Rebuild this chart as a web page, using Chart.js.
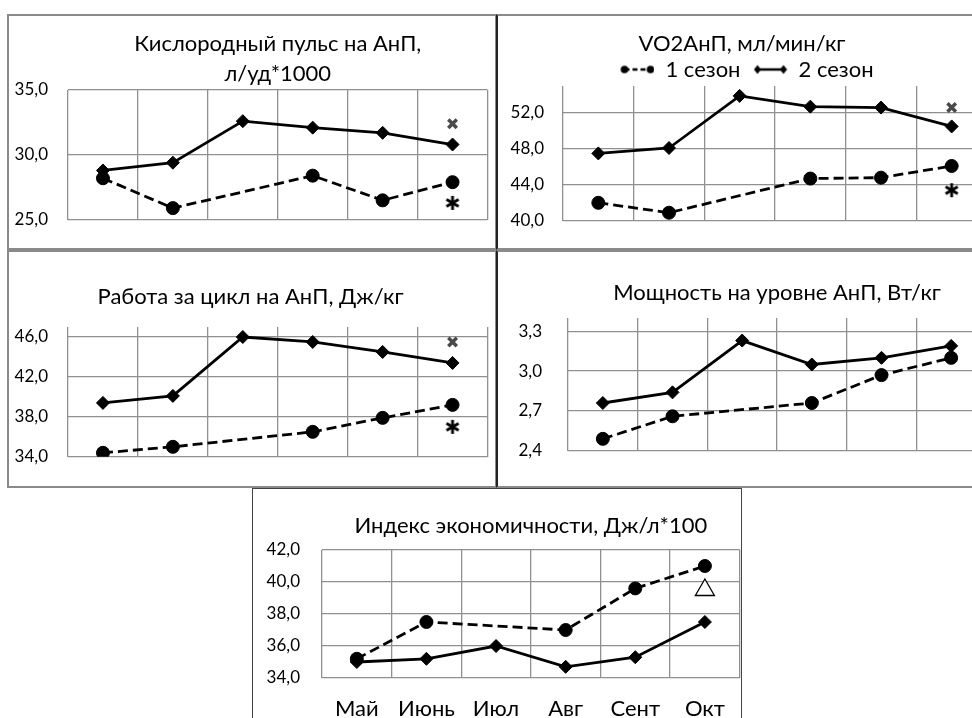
<!DOCTYPE html>
<html lang="ru">
<head>
<meta charset="utf-8">
<script src="https://cdn.jsdelivr.net/npm/chart.js@4.4.1/dist/chart.umd.min.js"></script>
<style>
  html, body { margin: 0; padding: 0; background: #fff; width: 972px; height: 718px; overflow: hidden; }
  .frame { position: absolute; box-sizing: border-box; }
  .holder { position: absolute; }
  #boxE { overflow: hidden; }
  #boxE canvas { position: absolute; left: -1px; top: -1px; }
</style>
</head>
<body>
<div class="frame" style="left:7px;top:14px;width:490px;height:236px;border:2px solid #8a8a8a;"></div>
<div class="frame" style="left:7px;top:250px;width:490px;height:238px;border:2px solid #8a8a8a;"></div>
<div class="frame" style="left:496px;top:14px;width:520px;height:236px;border:2px solid #8a8a8a;border-left-color:#222;"></div>
<div class="frame" style="left:496px;top:250px;width:520px;height:238px;border:2px solid #8a8a8a;border-left-color:#222;"></div>

<canvas class="holder" id="chartA" width="489" height="235" style="left:8px;top:15px;"></canvas>
<canvas class="holder" id="chartB" width="500" height="235" style="left:497px;top:15px;"></canvas>
<canvas class="holder" id="chartC" width="489" height="236" style="left:8px;top:251px;"></canvas>
<canvas class="holder" id="chartD" width="500" height="236" style="left:497px;top:251px;"></canvas>
<div class="frame" id="boxE" style="left:252px;top:488px;width:490px;height:240px;border:1px solid #444;">
  <canvas id="chartE" width="500" height="230"></canvas>
</div>

<script>
// months + series names
const months = ['Май', 'Июнь', 'Июл', 'Авг', 'Сент', 'Окт'];
const seriesNames = ['1 сезон', '2 сезон'];

// Кислородный пульс на АнП
const pulse1 = [28.2, 25.9, null, 28.4, 26.5, 27.9];
const pulse2 = [28.8, 29.4, 32.6, 32.1, 31.7, 30.8];
const pulseCross = [null, null, null, null, null, 32.4];
const pulseStar = [null, null, null, null, null, 26.3];
const pulseTicks = [25, 30, 35];

// VO2АнП
const vo2First = [42.0, 40.9, null, 44.7, 44.8, 46.1];
const vo2Second = [47.5, 48.1, 53.9, 52.7, 52.6, 50.5];
const vo2Cross = [null, null, null, null, null, 52.6];
const vo2Star = [null, null, null, null, null, 43.4];
const vo2Ticks = [40, 44, 48, 52];

// Работа за цикл
const work1 = [34.4, 35.0, null, 36.5, 37.9, 39.2];
const work2 = [39.4, 40.1, 46.0, 45.5, 44.5, 43.4];
const workCross = [null, null, null, null, null, 45.5];
const workStar = [null, null, null, null, null, 37.0];
const workTicks = [34, 38, 42, 46];

// Мощность на уровне АнП
const power1 = [2.49, 2.66, null, 2.76, 2.97, 3.10];
const power2 = [2.76, 2.84, 3.23, 3.05, 3.10, 3.19];
const powerTicks = [2.4, 2.7, 3.0, 3.3];

// Индекс экономичности
const econ1 = [35.2, 37.5, null, 37.0, 39.6, 41.0];
const econ2 = [35.0, 35.2, 36.0, 34.7, 35.3, 37.5];
const econTriangle = [null, null, null, null, null, 39.5];
const econTicks = [34, 36, 38, 40, 42];

Chart.defaults.font.family = 'Lato, "Open Sans", sans-serif';
Chart.defaults.color = '#000';

const gridColor = '#909090';
const titleSize = 22;

function fmt(v) {
    return Number(v).toFixed(1).replace('.', ',');
}

// asterisk marker
function makeStar() {
    const c = document.createElement('canvas');
    c.width = 16; c.height = 16;
    const ctx = c.getContext('2d');
    ctx.strokeStyle = '#000';
    ctx.lineWidth = 2.8;
    [90, 30, 150].forEach(a => {
        const t = a * Math.PI / 180;
        ctx.beginPath();
        ctx.moveTo(8 - 7 * Math.cos(t), 8 - 7 * Math.sin(t));
        ctx.lineTo(8 + 7 * Math.cos(t), 8 + 7 * Math.sin(t));
        ctx.stroke();
    });
    return c;
}

// legend icons: line with markers at both ends
function makeLegendIcon(dashed) {
    const c = document.createElement('canvas');
    c.width = 44; c.height = 14;
    const ctx = c.getContext('2d');
    ctx.strokeStyle = '#000';
    ctx.fillStyle = '#000';
    ctx.lineWidth = 2.5;
    if (dashed) ctx.setLineDash([5, 3]);
    ctx.beginPath();
    ctx.moveTo(14, 7);
    ctx.lineTo(40, 7);
    ctx.stroke();
    ctx.setLineDash([]);
    [14, 40].forEach(x => {
        ctx.beginPath();
        if (dashed) {
            ctx.arc(x, 7, 3.8, 0, Math.PI * 2);
        } else {
            ctx.moveTo(x, 2.5); ctx.lineTo(x + 3.5, 7); ctx.lineTo(x, 11.5); ctx.lineTo(x - 3.5, 7);
            ctx.closePath();
        }
        ctx.fill();
    });
    return c;
}

const starImg = makeStar();
const legendIcons = [makeLegendIcon(true), makeLegendIcon(false)];

function seriesSets(s1, s2) {
    return [
        {
            label: seriesNames[0], data: s1,
            borderColor: '#000', backgroundColor: '#000', borderWidth: 2.8, borderDash: [10, 5],
            pointStyle: 'circle', pointRadius: 6.5, pointBorderWidth: 1, spanGaps: true, order: 2
        },
        {
            label: seriesNames[1], data: s2,
            borderColor: '#000', backgroundColor: '#000', borderWidth: 2.8,
            pointStyle: 'rectRot', pointRadius: 6.5, pointBorderWidth: 1, order: 1
        }
    ];
}

function crossSet(data) {
    return { label: 'x', data, showLine: false, pointStyle: 'crossRot', pointRadius: 6,
        pointBorderWidth: 3.5, borderColor: '#4a4a4a', backgroundColor: '#4a4a4a', order: 0 };
}

function starSet(data) {
    return { label: '*', data, showLine: false, pointStyle: starImg, pointRadius: 7, order: 0 };
}

function buildChart(id, o) {
    const legend = o.legend ? {
        display: true,
        position: 'top',
        maxHeight: o.legendHeight,
        labels: {
            usePointStyle: true,
            pointStyleWidth: 44,
            padding: o.legendPad,
            font: { size: titleSize },
            color: '#000',
            generateLabels: () => [0, 1].map(i => ({
                text: seriesNames[i], pointStyle: legendIcons[i], fillStyle: '#000',
                strokeStyle: '#000', lineWidth: 0, hidden: false, datasetIndex: i, fontColor: '#000'
            }))
        }
    } : { display: false };

    return new Chart(document.getElementById(id), {
        type: 'line',
        data: { labels: months, datasets: o.datasets },
        options: {
            responsive: false,
            animation: false,
            events: [],
            layout: { padding: { left: 0, right: o.padRight, top: 0, bottom: o.padBottom } },
            plugins: {
                title: {
                    display: true, text: o.title, fullSize: o.titleFull, color: '#000',
                    font: { size: titleSize, weight: 'normal', lineHeight: (o.titleLine || 30) / titleSize },
                    padding: { top: o.titleTop, bottom: o.titleBottom }
                },
                legend: legend,
                tooltip: { enabled: false }
            },
            scales: {
                x: {
                    offset: true,
                    grid: { offset: true, color: gridColor, lineWidth: 1.3, drawTicks: false },
                    border: { display: false },
                    ticks: { display: !!o.showX, padding: o.xPad || 0, font: { size: 22 }, color: '#000', maxRotation: 0 },
                    afterFit: s => { s.height = o.xHeight || 0; }
                },
                y: {
                    min: o.min, max: o.max,
                    grid: { color: gridColor, lineWidth: 1.3, drawTicks: false },
                    border: { display: false },
                    ticks: { padding: o.yPad, font: { size: 17 }, color: '#000', callback: v => fmt(v) },
                    afterBuildTicks: s => { s.ticks = o.ticks.map(v => ({ value: v })); },
                    afterFit: s => { s.width = o.yWidth; }
                }
            }
        }
    });
}

buildChart('chartA', {
    title: ['Кислородный пульс на АнП,', 'л/уд*1000'], titleFull: false, titleTop: 13.5, titleBottom: 1.5,
    datasets: [...seriesSets(pulse1, pulse2), crossSet(pulseCross), starSet(pulseStar)],
    min: 25, max: 35, ticks: pulseTicks, yWidth: 60, yPad: 20, padRight: 5, padBottom: 16
});

buildChart('chartB', {
    title: 'VO2АнП, мл/мин/кг', titleFull: true, titleTop: 16.5, titleBottom: 0, titleLine: 24,
    legend: true, legendHeight: 30.5, legendPad: 3,
    datasets: [...seriesSets(vo2First, vo2Second), crossSet(vo2Cross), starSet(vo2Star)],
    min: 40, max: 55, ticks: vo2Ticks, yWidth: 66, yPad: 19, padRight: 10, padBottom: 6
});

buildChart('chartC', {
    title: 'Работа за цикл на АнП, Дж/кг', titleFull: true, titleTop: 30.5, titleBottom: 15.5,
    datasets: [...seriesSets(work1, work2), crossSet(workCross), starSet(workStar)],
    min: 34, max: 47, ticks: workTicks, yWidth: 60, yPad: 20, padRight: 4, padBottom: 15
});

buildChart('chartD', {
    title: 'Мощность на уровне АнП, Вт/кг', titleFull: false, titleTop: 26.5, titleBottom: 10.5,
    datasets: seriesSets(power1, power2),
    min: 2.4, max: 3.4, ticks: powerTicks, yWidth: 71, yPad: 26, padRight: 11, padBottom: 15
});

buildChart('chartE', {
    title: 'Индекс экономичности, Дж/л*100', titleFull: false, titleTop: 22.5, titleBottom: 9.5,
    datasets: [...seriesSets(econ1, econ2),
        { label: 'tri', data: econTriangle, showLine: false, pointStyle: 'triangle', pointRadius: 11,
          pointBorderWidth: 1.3, borderColor: '#000', backgroundColor: '#fff', order: 0 }],
    min: 34, max: 42, ticks: econTicks, yWidth: 70, yPad: 22, padRight: 10, padBottom: 0,
    showX: true, xHeight: 40, xPad: 18
});
</script>
</body>
</html>
